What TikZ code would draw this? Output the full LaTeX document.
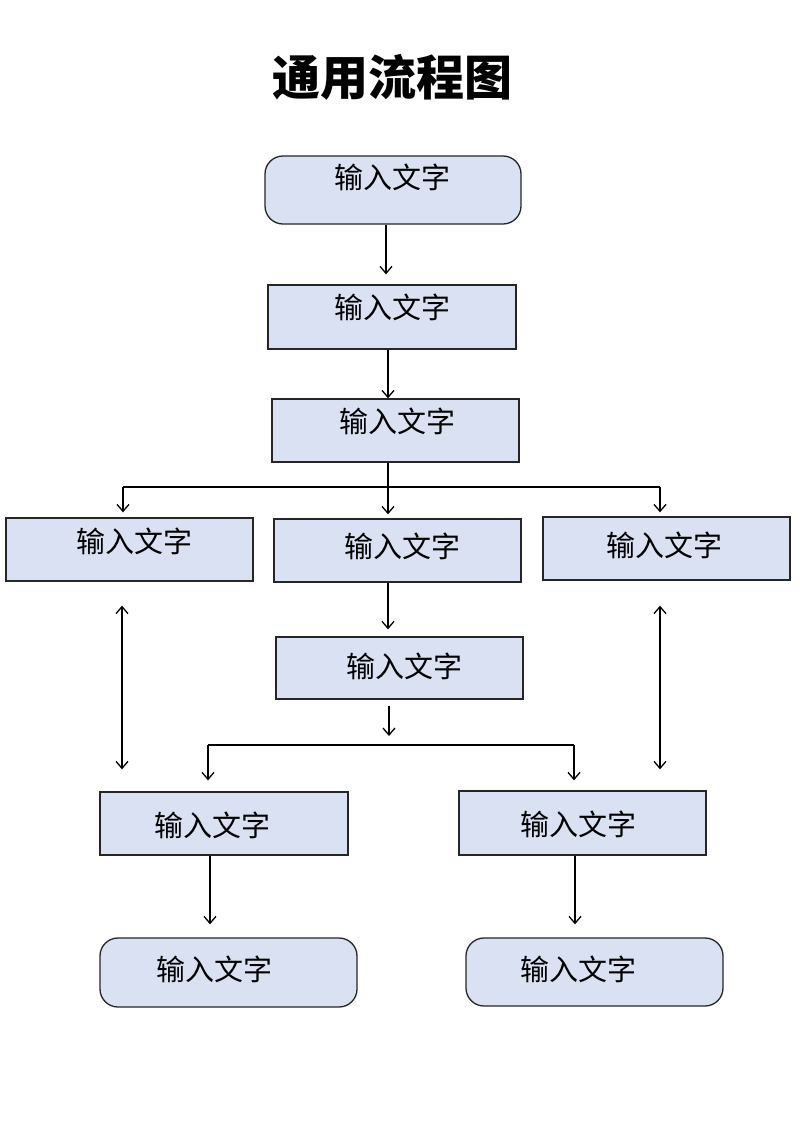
\documentclass[tikz,border=0pt]{standalone}
\usepackage{fontspec}
\setmainfont{Noto Sans CJK SC}
\usetikzlibrary{arrows.meta}
\definecolor{boxfill}{HTML}{D9E1F2}
\definecolor{boxline}{HTML}{262626}
\newcommand\txt{输入文字}
\begin{document}
\begin{tikzpicture}[x=1pt,y=-1pt,
  box/.style={draw=boxline,line width=1.3pt,fill=boxfill,inner sep=0pt,
    minimum width=247pt,minimum height=63pt},
  rbox/.style={box,rounded corners=18pt},
  every label/.style={font=\fontsize{29}{31}\selectfont,inner sep=0pt},
  ln/.style={line width=1.3pt,draw=black},
  arr/.style={ln,-{Straight Barb[length=7pt,width=12pt,line width=1.3pt]}},
  darr/.style={ln,{Straight Barb[length=7pt,width=12pt,line width=1.3pt]}-{Straight Barb[length=7pt,width=12pt,line width=1.3pt]}}]
\useasboundingbox[fill=white] (0,0) rectangle (800,1130);

\node[font=\bfseries\fontsize{48}{52}\selectfont] (title) at (392,77) {通用流程图};

\node[rbox,minimum width=256pt,minimum height=68pt,label={[xshift=-1pt,yshift=13pt]center:\txt}] (b1) at (393,190) {};
\node[box,minimum width=248pt,minimum height=64pt,label={[xshift=0pt,yshift=10pt]center:\txt}] (b2) at (392,317) {};
\node[box,label={[xshift=1.5pt,yshift=9.5pt]center:\txt}] (b3) at (395.5,430.5) {};
\node[box,label={[xshift=4.5pt,yshift=8.5pt]center:\txt}] (b4) at (129.5,549.5) {};
\node[box,label={[xshift=4.5pt,yshift=4.5pt]center:\txt}] (b5) at (397.5,550.5) {};
\node[box,label={[xshift=-2.5pt,yshift=3.5pt]center:\txt}] (b6) at (666.5,548.5) {};
\node[box,minimum height=62pt,label={[xshift=4.5pt,yshift=2pt]center:\txt}] (b7) at (399.5,668) {};
\node[box,minimum width=248pt,label={[xshift=-12pt,yshift=-1.5pt]center:\txt}] (b8) at (224,823.5) {};
\node[box,minimum height=64pt,label={[xshift=-4.5pt,yshift=-1pt]center:\txt}] (b9) at (582.5,823) {};
\node[rbox,minimum width=257pt,minimum height=69pt,label={[xshift=-14.5pt,yshift=3.5pt]center:\txt}] (b10) at (228.5,972.5) {};
\node[rbox,minimum width=257pt,minimum height=68pt,label={[xshift=-16.5pt,yshift=3pt]center:\txt}] (b11) at (594.5,972) {};

% top chain
\coordinate (a1) at (386,0);
\draw[arr,shorten >=10pt] (b1.south -| a1) -- (b2.north -| a1);
\coordinate (a2) at (388,0);
\draw[arr] (b2.south -| a2) -- (b3.north -| a2);

% first branch
\coordinate (j1) at (388,487);
\coordinate (jL) at (123,487);
\coordinate (jR) at (660,487);
\draw[ln] (jL) -- (jR);
\draw[arr,shorten >=4pt] (b3.south -| j1) -- (b5.north -| j1);
\draw[arr,shorten >=5pt] (jL) -- (b4.north -| jL);
\draw[arr,shorten >=4pt] (jR) -- (b6.north -| jR);

% middle
\draw[arr,shorten >=7pt] (b5.south -| j1) -- (b7.north -| j1);

% second branch
\coordinate (k0) at (389,706);
\coordinate (k1) at (389,736);
\draw[arr] (k0) -- (k1);
\coordinate (kL) at (208,745);
\coordinate (kR) at (574,745);
\draw[ln] (kL) -- (kR);
\draw[arr,shorten >=11pt] (kL) -- (b8.north -| kL);
\draw[arr,shorten >=10pt] (kR) -- (b9.north -| kR);

% side double arrows
\coordinate (dL) at (122,0);
\coordinate (dR) at (660,0);
\draw[darr,shorten <=24pt,shorten >=22pt] (b4.south -| dL) -- (b8.north -| dL);
\draw[darr,shorten <=25pt,shorten >=21pt] (b6.south -| dR) -- (b9.north -| dR);

% bottom
\coordinate (m1) at (210,0);
\coordinate (m2) at (575,0);
\draw[arr,shorten >=13pt] (b8.south -| m1) -- (b10.north -| m1);
\draw[arr,shorten >=13pt] (b9.south -| m2) -- (b11.north -| m2);
\end{tikzpicture}
\end{document}
